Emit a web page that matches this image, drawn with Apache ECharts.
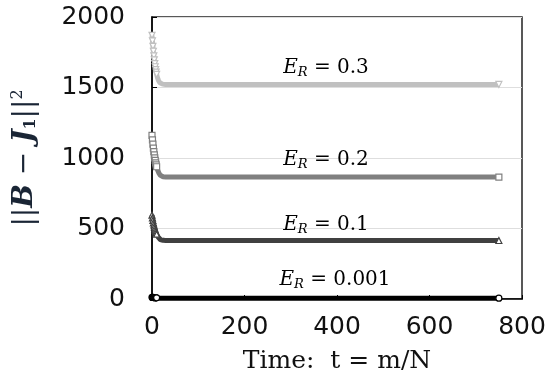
<!DOCTYPE html>
<html><head><meta charset="utf-8">
<script src="https://cdn.jsdelivr.net/npm/echarts@6/dist/echarts.min.js"></script>
<style>html,body{margin:0;padding:0;background:#fff}#c{width:560px;height:385px}</style>
</head><body><div id="c"></div>
<script>
// Time steps (t = m/N)
const tSteps = [0,1,2,3,4,5,6,7,8,9,10,11,12,13,14,15,16,17,18,19,20,21,22,23,24,25,26,27,28,29,30,750];
// ||B - J1||^2 for each E_R
const er03 = [1870,1830,1792,1757,1725,1696,1670,1647,1627,1609,1593,1580,1568,1558,1550,1543,1538,1534,1531,1529,1527,1526,1525,1524,1524,1523,1523,1523,1522,1522,1522,1522];
const er02 = [1160,1128,1098,1070,1045,1022,1001,983,966,951,938,926,916,907,899,892,886,881,877,874,872,870,869,868,867,867,866,866,866,865,865,865];
const er01 = [595,575,557,540,525,511,498,487,477,468,460,453,447,441,436,432,428,425,422,420,419,418,417,416,416,415,415,415,415,415,415,415];
const er0001 = [12,11,11,10,10,9,9,9,8,8,8,8,7,7,7,7,7,7,6,6,6,6,6,6,6,6,6,6,6,6,6,6];
const seriesNames = ['0.3','0.2','0.1','0.001'];

const pair = v => tSteps.map((t,i)=>[t,v[i]]);
const serif = '"DejaVu Serif","Liberation Serif",serif';
const sans = '"DejaVu Sans","Noto Sans",sans-serif';
const lastT = tSteps[tSteps.length-1];

function mk(name, data, color, symbol, rot, z){
  return {name, type:'line', data:pair(data), z,
    symbol:(v)=> (v[0]<=10 || v[0]===lastT) ? symbol : 'none',
    symbolRotate:rot, symbolSize:6, showSymbol:true,
    lineStyle:{color, width:5}, itemStyle:{color:'#fff', borderColor:color, borderWidth:1.2},
    emphasis:{disabled:true}, animation:false};
}
const chart = echarts.init(document.getElementById('c'));
const lblRich = {
  e:{fontFamily:serif, fontStyle:'italic', fontSize:20, color:'#111'},
  r:{fontFamily:serif, fontStyle:'italic', fontSize:13, color:'#111', padding:[9,0,0,0]},
  n:{fontFamily:serif, fontSize:20, color:'#111'}
};
function lbl(txt, x, y){
  return {type:'text', x, y, z:100, style:{text:'{e|E}{r|R}{n| = '+txt+'}', rich:lblRich, align:'center', verticalAlign:'middle'}};
}
chart.setOption({
  animation:false,
  grid:{left:152, right:38, top:17, bottom:86, show:true, borderColor:'#222', borderWidth:1.5, backgroundColor:'transparent'},
  xAxis:{type:'value', min:0, max:800, interval:200,
    axisLine:{lineStyle:{color:'#000', width:1.5}}, axisTick:{inside:true, length:4, lineStyle:{color:'#000'}},
    splitLine:{show:false},
    axisLabel:{fontFamily:sans, fontSize:25, color:'#111', margin:16, formatter:v=>String(v)},
    name:'Time:  t = m/N', nameLocation:'middle', nameGap:50,
    nameTextStyle:{fontFamily:serif, fontSize:25, color:'#111'}},
  yAxis:{type:'value', min:0, max:2000, interval:500,
    axisLine:{show:true, lineStyle:{color:'#000', width:1.5}}, axisTick:{show:true, inside:true, length:5, lineStyle:{color:'#000'}},
    splitLine:{show:true, lineStyle:{color:'#dedede', width:1}},
    axisLabel:{fontFamily:sans, fontSize:25, color:'#111', margin:27, formatter:v=>String(v)},
    name:'{n|||}{b|B}{n| − }{b|J}{s|1}{n|||}{p|2}', nameLocation:'middle', nameGap:112, nameRotate:90,
    nameTextStyle:{rich:{
      n:{fontFamily:serif, fontSize:28, color:'#1a2535'},
      b:{fontFamily:serif, fontSize:28, fontStyle:'italic', fontWeight:'bold', color:'#1a2535'},
      s:{fontFamily:serif, fontSize:16, fontWeight:'bold', color:'#1a2535', padding:[12,0,0,0]},
      p:{fontFamily:serif, fontSize:16, color:'#1a2535', padding:[0,0,14,0]}
    }}},
  graphic:[lbl('0.3',326,68), lbl('0.2',326,160), lbl('0.1',326,225), lbl('0.001',335,280)],
  series:[
    mk(seriesNames[0], er03, '#c0c0c0', 'triangle', 180, 2),
    mk(seriesNames[1], er02, '#808080', 'rect', 0, 3),
    mk(seriesNames[2], er01, '#404040', 'triangle', 0, 4),
    mk(seriesNames[3], er0001, '#000000', 'circle', 0, 5)
  ]
});
</script></body></html>
